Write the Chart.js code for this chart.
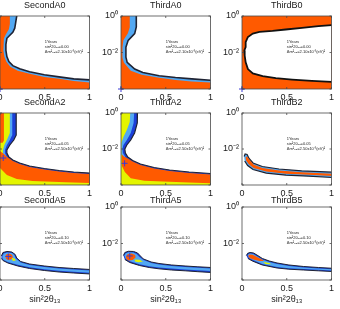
<!DOCTYPE html>
<html>
<head>
<meta charset="utf-8">
<script src="https://cdn.jsdelivr.net/npm/chart.js@4"></script>
<style>
html, body { margin: 0; padding: 0; background: #fff; width: 340px; height: 309px; overflow: hidden; position: relative; }
canvas { position: absolute; }
</style>
</head>
<body>
<script>
// contour outlines, as [sin^2 2theta13, dm^2] pairs
// points just outside 0..1 / 1e-4..1 only close the shapes (they get clipped)

// row 1 - sin^2 2theta13 = 0.00
const secondA0Edge = [[0.187,2],[0.187,1],[0.176,0.464],[0.165,0.215],[0.143,0.129],[0.11,0.088],[0.077,0.06],[0.066,0.0278],[0.066,0.0129],[0.077,0.006],[0.099,0.00316],[0.143,0.0019],[0.22,0.00129],[0.33,0.00088],[0.495,0.0006],[0.66,0.00046],[0.824,0.00036],[1,0.000316],[1.05,0.0003],[1.05,1e-5],[-0.05,1e-5],[-0.05,2]];
const secondA0Orange = [[0.11,2],[0.11,1],[0.11,0.359],[0.099,0.19],[0.066,0.1],[0.044,0.06],[0.038,0.0278],[0.038,0.0129],[0.049,0.006],[0.071,0.00316],[0.115,0.00167],[0.198,0.001],[0.33,0.00068],[0.495,0.00046],[0.66,0.00036],[0.824,0.000278],[1,0.00023],[1.05,0.00022],[1.05,1e-5],[-0.05,1e-5],[-0.05,2]];
const thirdA0Edge = [[0.171,2],[0.171,1],[0.171,0.254],[0.153,0.109],[0.08,0.0464],[0.055,0.0197],[0.055,0.00548],[0.069,0.00289],[0.153,0.00124],[0.244,0.000805],[0.426,0.000527],[0.609,0.000425],[0.791,0.00036],[1,0.000304],[1.05,0.0003],[1.05,1e-5],[-0.05,1e-5],[-0.05,2]];
const thirdA0Orange = [[0.098,2],[0.098,1],[0.098,0.245],[0.077,0.114],[0.027,0.0464],[0.016,0.019],[0.016,0.00527],[0.033,0.00278],[0.109,0.001],[0.23,0.0006],[0.426,0.000408],[0.612,0.000316],[0.787,0.000261],[1,0.00023],[1.05,0.00022],[1.05,1e-5],[-0.05,1e-5],[-0.05,2]];
const thirdB0Field = [[-0.05,2],[1.05,2],[1.05,1e-5],[-0.05,1e-5]];
const thirdB0Hole = [[1.05,0.316],[1,0.316],[0.854,0.278],[0.67,0.224],[0.488,0.182],[0.341,0.153],[0.195,0.134],[0.121,0.109],[0.066,0.0708],[0.041,0.0374],[0.041,0.0197],[0.026,0.0129],[0.03,0.0068],[0.041,0.00289],[0.066,0.00124],[0.121,0.000708],[0.231,0.000508],[0.378,0.000393],[0.56,0.000329],[0.78,0.000278],[1,0.000245],[1.05,0.000245]];

// row 2 - sin^2 2theta13 = 0.05
const secondA2Edge = [[0.181,2],[0.181,1],[0.181,0.06],[0.154,0.0316],[0.11,0.0167],[0.077,0.0088],[0.077,0.006],[0.099,0.00359],[0.143,0.00245],[0.22,0.00167],[0.33,0.00114],[0.495,0.000825],[0.66,0.00064],[0.824,0.000527],[1,0.00046],[1.05,0.00045],[1.05,1e-5],[-0.05,1e-5],[-0.05,2]];
const secondA2Cyan = [[0.137,2],[0.137,1],[0.137,0.06],[0.11,0.0316],[0.077,0.0167],[0.055,0.0088],[0.055,0.006],[0.082,0.00316],[0.132,0.00202],[0.22,0.00138],[0.33,0.00094],[0.495,0.00068],[0.66,0.000527],[0.824,0.000435],[1,0.000383],[1.05,0.00038],[1.05,1e-5],[-0.05,1e-5],[-0.05,2]];
const secondA2Yellow = [[0.11,2],[0.11,1],[0.11,0.0774],[0.082,0.0359],[0.049,0.0167],[0.033,0.0088],[0.033,0.00527],[0.066,0.00278],[0.121,0.00167],[0.22,0.00114],[0.33,0.000825],[0.495,0.0006],[0.66,0.00046],[0.824,0.000383],[1,0.000337],[1.05,0.00033],[1.05,1e-5],[-0.05,1e-5],[-0.05,2]];
const secondA2OrangeStrip = [[-0.05,2],[0.044,2],[0.044,0.03],[0.03,0.022],[-0.05,0.022]];
const secondA2OrangeBand = [[-0.05,0.0085],[0,0.00774],[0.044,0.00527],[0.088,0.00337],[0.143,0.00215],[0.22,0.00147],[0.33,0.001],[0.495,0.000726],[0.66,0.000562],[0.824,0.00046],[1,0.000408],[1.05,0.0004],[1.05,0.000125],[1,0.000129],[0.736,0.000141],[0.363,0.000167],[0.187,0.000215],[0.077,0.00036],[0,0.00088],[-0.05,0.001]];
const thirdA2Edge = [[0.185,2],[0.185,1],[0.179,0.278],[0.152,0.0774],[0.109,0.0316],[0.065,0.0167],[0.043,0.01],[0.049,0.006],[0.076,0.00359],[0.13,0.0023],[0.217,0.00147],[0.37,0.00094],[0.543,0.00068],[0.761,0.000527],[1,0.000435],[1.05,0.00043],[1.05,1e-5],[-0.05,1e-5],[-0.05,2]];
const thirdA2Cyan = [[0.147,2],[0.147,1],[0.141,0.278],[0.109,0.0774],[0.065,0.0316],[0.027,0.0167],[0.016,0.01],[0.022,0.006],[0.054,0.00316],[0.12,0.0019],[0.217,0.00121],[0.37,0.000774],[0.543,0.000562],[0.761,0.000435],[1,0.00036],[1.05,0.00035],[1.05,1e-5],[-0.05,1e-5],[-0.05,2]];
const thirdA2Yellow = [[0.103,2],[0.103,1],[0.098,0.316],[0.065,0.114],[0.027,0.0464],[0.005,0.0215],[0,0.01],[0.005,0.00527],[0.033,0.00278],[0.109,0.00156],[0.217,0.001],[0.37,0.00064],[0.543,0.00046],[0.761,0.00036],[1,0.000297],[1.05,0.00029],[1.05,1e-5],[-0.05,1e-5],[-0.05,2]];
const thirdA2OrangeBand = [[0.01,0.005],[0.033,0.00383],[0.076,0.00297],[0.13,0.00202],[0.217,0.00129],[0.37,0.000825],[0.543,0.0006],[0.761,0.00046],[1,0.000383],[1.05,0.00037],[1.05,0.00012],[1,0.000124],[0.761,0.000138],[0.543,0.000151],[0.261,0.000173],[0.109,0.000236],[0.043,0.000527],[0.01,0.00114]];
const thirdB2Outer = [[0.024,0.00383],[0.035,0.00527],[0.057,0.00495],[0.079,0.00297],[0.123,0.00167],[0.227,0.00107],[0.414,0.000774],[0.667,0.000615],[1.01,0.000514],[1.01,0.000261],[0.744,0.000308],[0.491,0.00035],[0.271,0.00046],[0.123,0.000726],[0.063,0.00121],[0.03,0.00215]];
const thirdB2Orange = [[0.041,0.00359],[0.057,0.00383],[0.085,0.00245],[0.129,0.00138],[0.227,0.00088],[0.414,0.00064],[0.667,0.000508],[1.01,0.000425],[1.01,0.000316],[0.744,0.000369],[0.491,0.000419],[0.271,0.000555],[0.129,0.00088],[0.074,0.00147],[0.046,0.0023]];

// row 3 - sin^2 2theta13 = 0.10
const secondA5Outer = [[0.016,0.00207],[0.033,0.00321],[0.077,0.00365],[0.132,0.00342],[0.17,0.0025],[0.187,0.0016],[0.231,0.00103],[0.33,0.000753],[0.495,0.000585],[0.66,0.000484],[0.824,0.000427],[1.01,0.000376],[1.01,0.000213],[0.824,0.000242],[0.66,0.000274],[0.495,0.000332],[0.33,0.000427],[0.198,0.000585],[0.088,0.000855],[0.033,0.00117],[0.016,0.00151]];
const secondA5Cyan = [[0.027,0.00207],[0.044,0.00283],[0.082,0.00321],[0.132,0.00302],[0.159,0.00234],[0.176,0.00151],[0.231,0.00091],[0.33,0.000664],[0.495,0.000515],[0.66,0.000427],[0.824,0.000376],[1.01,0.000332],[1.01,0.000251],[0.824,0.000285],[0.66,0.000323],[0.495,0.000391],[0.33,0.000496],[0.198,0.000681],[0.088,0.000969],[0.038,0.00128],[0.027,0.0016]];
const secondA5Orange = [[0.06,0.00207],[0.077,0.00266],[0.11,0.00273],[0.137,0.00234],[0.143,0.00171],[0.121,0.00133],[0.088,0.00125],[0.066,0.00151]];
const secondA5Yellow = [[0.132,0.0016],[0.165,0.00151],[0.176,0.00117],[0.143,0.0011]];
const thirdA5Outer = [[0.027,0.0022],[0.043,0.00321],[0.082,0.00374],[0.141,0.00365],[0.185,0.00302],[0.217,0.00207],[0.25,0.00142],[0.337,0.000969],[0.424,0.000802],[0.565,0.000664],[0.717,0.000585],[0.859,0.000529],[1.01,0.000484],[1.01,0.000258],[0.859,0.000285],[0.717,0.000319],[0.565,0.000353],[0.424,0.000411],[0.315,0.000484],[0.207,0.000623],[0.098,0.00091],[0.043,0.00133]];
const thirdA5Cyan = [[0.038,0.0022],[0.054,0.0029],[0.085,0.0033],[0.136,0.00321],[0.174,0.00266],[0.207,0.00182],[0.25,0.00125],[0.337,0.000855],[0.424,0.000707],[0.565,0.000585],[0.717,0.000515],[0.859,0.000466],[1.01,0.000427],[1.01,0.000311],[0.859,0.00034],[0.717,0.000381],[0.565,0.000421],[0.424,0.00049],[0.315,0.00057],[0.207,0.000725],[0.109,0.00103],[0.054,0.00145]];
const thirdA5Orange = [[0.054,0.00194],[0.076,0.00266],[0.12,0.00283],[0.158,0.00234],[0.163,0.00171],[0.13,0.00125],[0.087,0.00117],[0.06,0.00142]];
const thirdA5Yellow = [[0.152,0.00133],[0.207,0.00128],[0.245,0.00103],[0.196,0.000933],[0.158,0.00103]];
const thirdB5Outer = [[0.049,0.0022],[0.063,0.0029],[0.09,0.00321],[0.129,0.00302],[0.167,0.00234],[0.227,0.00151],[0.304,0.0011],[0.392,0.000855],[0.524,0.000664],[0.689,0.000549],[0.854,0.000484],[1.01,0.000438],[1.01,0.000292],[0.854,0.000319],[0.689,0.000353],[0.524,0.000391],[0.392,0.000455],[0.227,0.000664],[0.121,0.00107],[0.066,0.00151]];
const thirdB5Cyan = [[0.063,0.0022],[0.074,0.00266],[0.093,0.00283],[0.126,0.00266],[0.162,0.00207],[0.227,0.00133],[0.304,0.000969],[0.392,0.000753],[0.524,0.000585],[0.689,0.000484],[0.854,0.000427],[1.01,0.000386],[1.01,0.000332],[0.854,0.000362],[0.689,0.000401],[0.524,0.000443],[0.392,0.000515],[0.227,0.000753],[0.129,0.0012],[0.079,0.0016]];
const thirdB5Orange = [[0.068,0.00207],[0.085,0.0025],[0.118,0.0024],[0.162,0.00187],[0.217,0.00136],[0.25,0.0011],[0.195,0.0011],[0.129,0.00133],[0.085,0.0016]];
const thirdB5Yellow = [[0.238,0.000969],[0.304,0.000855],[0.326,0.000734],[0.26,0.000753]];

// true value markers (+)
const markA0 = [0, 1e-4];
const markSecondA2 = [0.036, 0.00316];
const markThirdA2 = [0.04, 0.0016];
const markSecondA5 = [0.093, 0.00194];
const markThirdA5 = [0.098, 0.00207];

// ticks and annotation values
const xTickValues = [0, 0.5, 1];
const yTickValues = [1e-4, 1e-2, 1];
const yTickLabels = ['', '10⁻²', '10⁰'];
const rowSin = ['0.00', '0.05', '0.10'];
const rowDm = ['2.10', '2.50', '2.50'];

const FONT = "'Liberation Sans', Arial, sans-serif";
const C = { orange: '#ff5a00', yellow: '#e4f500', cyan: '#52a8f2', blue: '#1b3fd9', dark: '#1f2333', white: '#ffffff' };

// layers go bottom -> top: [points, fill, border, borderWidth]
const panels = [
    { title: 'SecondA0', row: 0, col: 0, mark: markA0, layers: [[secondA0Edge, C.cyan, C.dark, 1.6], [secondA0Orange, C.orange]] },
    { title: 'ThirdA0', row: 0, col: 1, mark: markA0, layers: [[thirdA0Edge, C.cyan, C.dark, 1.6], [thirdA0Orange, C.orange]] },
    { title: 'ThirdB0', row: 0, col: 2, mark: markA0, layers: [[thirdB0Field, C.orange], [thirdB0Hole, C.white, '#111111', 1.8]] },
    { title: 'SecondA2', row: 1, col: 0, mark: markSecondA2, layers: [[secondA2Edge, C.blue, C.dark, 1.2], [secondA2Cyan, C.cyan], [secondA2Yellow, C.yellow], [secondA2OrangeStrip, C.orange], [secondA2OrangeBand, C.orange]] },
    { title: 'ThirdA2', row: 1, col: 1, mark: markThirdA2, layers: [[thirdA2Edge, C.blue, C.dark, 1.2], [thirdA2Cyan, C.cyan], [thirdA2Yellow, C.yellow], [thirdA2OrangeBand, C.orange]] },
    { title: 'ThirdB2', row: 1, col: 2, mark: null, layers: [[thirdB2Outer, C.cyan, C.dark, 1.2], [thirdB2Orange, C.orange]] },
    { title: 'SecondA5', row: 2, col: 0, mark: markSecondA5, layers: [[secondA5Outer, C.blue, C.dark, 1], [secondA5Cyan, C.cyan], [secondA5Orange, C.orange], [secondA5Yellow, C.yellow]] },
    { title: 'ThirdA5', row: 2, col: 1, mark: markThirdA5, layers: [[thirdA5Outer, C.blue, C.dark, 1], [thirdA5Cyan, C.cyan], [thirdA5Orange, C.orange], [thirdA5Yellow, C.yellow]] },
    { title: 'ThirdB5', row: 2, col: 2, mark: null, layers: [[thirdB5Outer, C.blue, C.dark, 1], [thirdB5Cyan, C.cyan], [thirdB5Orange, C.orange], [thirdB5Yellow, C.yellow]] }
];

// page layout of the canvases
const colLeft = [-28, 93, 214];
const rowTop = [0, 94, 190];         //canvas top
const rowPlotTop = [16, 113, 207];    //top of the plot box
const rowTitleY = [6, 102.5, 200.5];  //middle of the panel title
const rowHeight = [103, 105, 115];
const rowAxisHeight = [14, 14, 25];
const yAxisWidth = 28;
const panelWidth = 123;

const pts = arr => arr.map(p => ({ x: p[0], y: p[1] }));

// box around the plot with small inward ticks, like the original
const framePlugin = {
    id: 'frame',
    afterDatasetsDraw(chart) {
        const { ctx, chartArea: a, scales } = chart;
        ctx.save();
        ctx.strokeStyle = '#4a4a4a';
        ctx.lineWidth = 0.8;
        ctx.strokeRect(a.left, a.top, a.right - a.left, a.bottom - a.top);
        ctx.beginPath();
        xTickValues.forEach(v => {
            const px = scales.x.getPixelForValue(v);
            ctx.moveTo(px, a.bottom); ctx.lineTo(px, a.bottom - 2);
            ctx.moveTo(px, a.top); ctx.lineTo(px, a.top + 2);
        });
        yTickValues.forEach(v => {
            const py = scales.y.getPixelForValue(v);
            ctx.moveTo(a.left, py); ctx.lineTo(a.left + 2, py);
            ctx.moveTo(a.right, py); ctx.lineTo(a.right - 2, py);
        });
        ctx.stroke();
        ctx.restore();
    }
};

// title centred over the plot box, and the little three line note inside it
const textPlugin = {
    id: 'panelText',
    afterDatasetsDraw(chart, args, opts) {
        const { ctx, chartArea: a } = chart;
        const mid = (a.left + a.right) / 2;
        ctx.save();
        ctx.fillStyle = '#1a1a1a';
        ctx.textBaseline = 'middle';
        ctx.textAlign = 'center';
        ctx.font = '9px ' + FONT;
        ctx.fillText(opts.title, mid, opts.titleY);
        ctx.textAlign = 'left';
        ctx.font = '4px ' + FONT;
        opts.lines.forEach((t, i) => ctx.fillText(t, mid, a.top + 25.5 + i * 5));
        ctx.restore();
    }
};

panels.forEach(p => {
    const r = p.row;
    const canvas = document.createElement('canvas');
    canvas.width = panelWidth;
    canvas.height = rowHeight[r];
    canvas.style.left = colLeft[p.col] + 'px';
    canvas.style.top = rowTop[r] + 'px';
    document.body.appendChild(canvas);

    const datasets = p.layers.map((l, i) => ({
        data: pts(l[0]),
        showLine: true,
        fill: 'shape',
        backgroundColor: l[1],
        borderColor: l[2] || 'rgba(0,0,0,0)',
        borderWidth: l[3] || 1,
        pointRadius: 0,
        order: 100 - i      //first layer lies at the bottom
    }));
    if (p.mark) {
        datasets.push({
            data: pts([p.mark]),
            showLine: false,
            pointStyle: 'cross',
            pointRadius: 3,
            pointBorderWidth: 1,
            pointBorderColor: '#3b3bd6',
            clip: false,
            order: 0
        });
    }

    const tickFont = { family: FONT, size: 9 };
    new Chart(canvas, {
        type: 'line',
        data: { datasets },
        options: {
            animation: false,
            responsive: false,
            events: [],
            layout: { padding: { left: 0, right: 4, top: rowPlotTop[r] - rowTop[r], bottom: 0 } },
            elements: { line: { tension: 0 } },
            plugins: {
                legend: { display: false },
                tooltip: { enabled: false },
                title: { display: false },
                panelText: {
                    title: p.title,
                    titleY: rowTitleY[r] - rowTop[r],
                    lines: ['1Years', 'sin²2θ₁₃=' + rowSin[r], 'Δm²₃₂=' + rowDm[r] + 'x10⁻³(eV)²']
                }
            },
            scales: {
                x: {
                    type: 'linear',
                    min: 0,
                    max: 1,
                    grid: { display: false, drawTicks: false },
                    border: { display: false },
                    afterBuildTicks: s => { s.ticks = xTickValues.map(v => ({ value: v })); },
                    afterFit: s => { s.height = rowAxisHeight[r]; },
                    ticks: { color: '#1a1a1a', font: tickFont, padding: 3, maxRotation: 0, autoSkip: false, callback: v => String(v) },
                    title: {
                        display: r === 2,
                        text: 'sin²2θ₁₃',
                        color: '#1a1a1a',
                        font: tickFont,
                        padding: { top: 0, bottom: 0 }
                    }
                },
                y: {
                    type: 'logarithmic',
                    min: 1e-4,
                    max: 1,
                    grid: { display: false, drawTicks: false },
                    border: { display: false },
                    afterBuildTicks: s => { s.ticks = yTickValues.map(v => ({ value: v })); },
                    afterFit: s => { s.width = yAxisWidth; },
                    ticks: {
                        color: '#1a1a1a',
                        font: tickFont,
                        padding: 3,
                        autoSkip: false,
                        callback: v => yTickLabels[yTickValues.indexOf(v)] || ''
                    }
                }
            }
        },
        plugins: [framePlugin, textPlugin]
    });
});
</script>
</body>
</html>
